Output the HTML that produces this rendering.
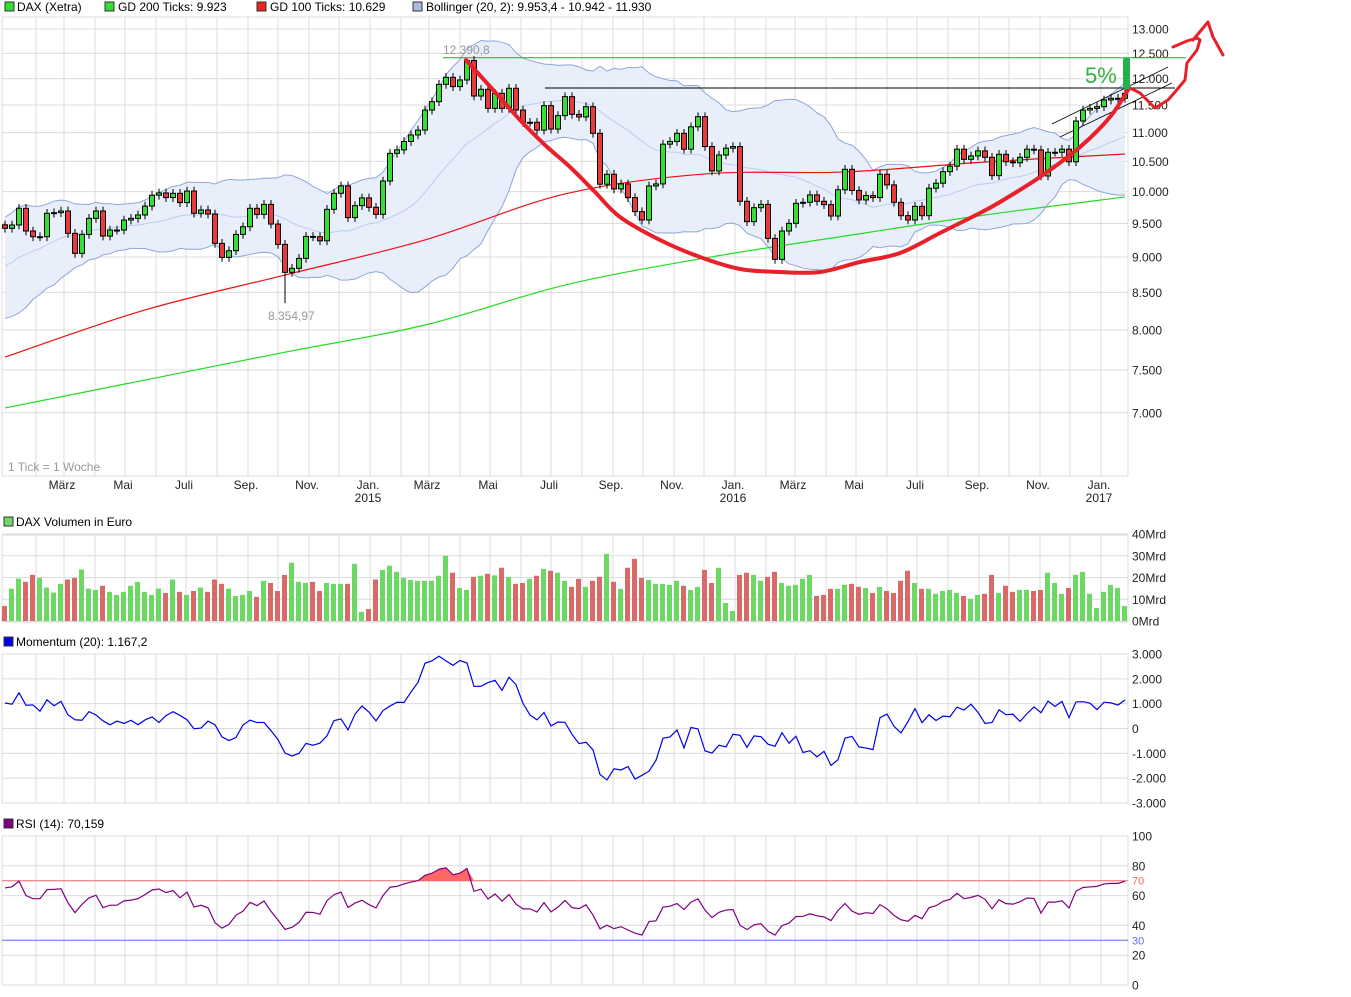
<!DOCTYPE html>
<html><head><meta charset="utf-8">
<style>
html,body{margin:0;padding:0;background:#fff;}
svg{display:block;font-family:"Liberation Sans",Arial,sans-serif;}
</style></head>
<body>
<svg id="chart" xmlns="http://www.w3.org/2000/svg" width="1351" height="997" viewBox="0 0 1351 997">
<g id="legend" font-size="12" fill="#000">
  <rect x="5" y="2" width="9" height="9" fill="#33dd33" stroke="#333"/>
  <text x="17" y="11">DAX (Xetra)</text>
  <rect x="105" y="2" width="9" height="9" fill="#33dd33" stroke="#333"/>
  <text x="118" y="11">GD 200 Ticks: 9.923</text>
  <rect x="257" y="2" width="9" height="9" fill="#ee2222" stroke="#333"/>
  <text x="270" y="11">GD 100 Ticks: 10.629</text>
  <rect x="413" y="2" width="9" height="9" fill="#aabbe0" stroke="#333"/>
  <text x="426" y="11">Bollinger (20, 2): 9.953,4 - 10.942 - 11.930</text>
  <rect x="4" y="517" width="9" height="9" fill="#6cd964" stroke="#333"/>
  <text x="16" y="526">DAX Volumen in Euro</text>
  <rect x="4" y="637" width="9" height="9" fill="#0000ee" stroke="#333"/>
  <text x="16" y="646">Momentum (20): 1.167,2</text>
  <rect x="4" y="819" width="9" height="9" fill="#800080" stroke="#333"/>
  <text x="16" y="828">RSI (14): 70,159</text>
</g>
<g id="grid"></g>
<g id="main"></g>
<g id="vol"></g>
<g id="mom"></g>
<g id="rsi"></g>
<g id="anno"></g>
</svg>
<script>
// ---------- DATA ----------
const preHistory = [8400,8500,8300,8450,8350,8600,8500,8750,8600,8800,8700,9000,8900,9150,9000,9250,9100,9350,9250,9480];
const closes = [9426,9477,9735,9385,9299,9299,9657,9667,9693,9350,
9053,9334,9579,9693,9309,9400,9400,9553,9579,9631,
9770,9943,9980,9905,9974,9825,10010,9657,9709,9646,
9200,8994,9092,9334,9450,9735,9641,9797,9491,9185,
8780,8837,8980,9304,9299,9238,9719,9974,10093,9590,
9777,9900,9751,9641,10173,10638,10697,10843,10958,11044,
11407,11562,11890,12025,11846,11974,12356,11668,11795,11438,
11719,11438,11814,11407,11184,11184,11044,11488,11062,11305,
11656,11328,11281,11469,10987,10121,10285,10044,10126,9905,
9683,9553,10093,10126,10796,10843,10987,10709,11103,11286,
10755,10340,10609,10727,10755,9846,9528,9745,9797,9274,
8966,9385,9502,9814,9830,9948,9846,9793,9615,10030,
10367,10020,9867,9938,9905,10285,10110,9830,9620,9553,
9766,9620,10056,10137,10328,10420,10709,10535,10593,10680,
10570,10262,10621,10494,10477,10570,10709,10697,10257,10656,
10656,10709,10494,11207,11407,11438,11469,11594,11625,11625,11719];
const volumes = [6.9,14.9,19.5,18,21.2,19.8,15.4,13.1,17.1,19.1,
19.8,23.7,14.9,14.3,16.2,13.4,12,13.4,16.2,18,
13.4,12,14.9,12.9,19.1,13.4,12,13.8,15.4,13.4,
19.1,17.1,14.9,11.5,12,13.8,11.1,18.5,17.5,13.8,
21.2,26.8,18,17.5,18,13.8,17.5,17.1,17.1,17.1,
26.3,4.2,5.5,19.1,23.5,25.4,22.6,19.8,18.9,18.5,
18.5,18.5,20.8,30,22.2,15.2,14.3,20.3,20.8,21.7,
21,24.5,20.3,17.1,17.5,19.4,20.8,24,23.1,22.2,
18.5,15.7,19.4,15.7,18.5,20.3,30.9,18,14.8,24.5,
28.6,19.8,18.9,17.1,17.1,16.6,18.5,16.2,14.3,15.7,
23.5,17.5,24.5,8.3,4.6,21.2,22.2,21.2,18.5,20.3,
22.6,17.5,16.2,16.6,19.4,21.2,11.5,12,14.8,14.8,
16.6,17.1,15.7,15.2,12.9,15.7,13.8,12.9,18.5,23.1,
17.5,14.8,14.8,12.5,13.8,14.3,12.9,11.5,10.2,12,
12.5,21.2,12.9,16.2,13.4,14.3,14.3,13.8,14.3,22.2,
17.5,12.5,15.2,21.2,22.6,12.5,6,13.4,16.6,15.2,6.9];
const sma200Values = [7055,7380,7719,8065,8602,8985,9310,9631,9915];
const sma100Values = [7658,8263,8742,9251,9963,10290,10323,10490,10626];
const maStepWeeks = 20;
const priceTicks = [13000,12500,12000,11500,11000,10500,10000,9500,9000,8500,8000,7500,7000];
const priceTickLabels = ["13.000","12.500","12.000","11.500","11.000","10.500","10.000","9.500","9.000","8.500","8.000","7.500","7.000"];
const volTicks = [40,30,20,10,0];
const volTickLabels = ["40Mrd","30Mrd","20Mrd","10Mrd","0Mrd"];
const momTicks = [3000,2000,1000,0,-1000,-2000,-3000];
const momTickLabels = ["3.000","2.000","1.000","0","-1.000","-2.000","-3.000"];
const rsiTicks = [100,80,60,40,20,0];
const monthLabels = ["März","Mai","Juli","Sep.","Nov.","Jan.","März","Mai","Juli","Sep.","Nov.","Jan.","März","Mai","Juli","Sep.","Nov.","Jan."];
const monthLabelDays = [59,120,181,243,304,365,424,485,546,608,669,730,790,851,912,974,1035,1096];
const yearLabels = ["2015","2016","2017"];
const yearLabelDays = [365,730,1096];
const highLabel = 12390.8, highWeek = 66;
const lowLabel = 8354.97, lowWeek = 40;

// ---------- SCALES ----------
const NS = "http://www.w3.org/2000/svg";
const PL = 2, PR = 1128;
function xw(i){ return 5 + 7*i; }
function xd(d){ return 5 + d; }
function yP(v){ return 29 + (Math.log(13000) - Math.log(v))*620; }
function yV(v){ return 621 - v*2.175; }
function yM(m){ return 728.5 - m*0.024833; }
function yR(r){ return 985 - r*1.49; }
function mk(parent, tag, attrs, txt){
  const e = document.createElementNS(NS, tag);
  for (const k in attrs) e.setAttribute(k, attrs[k]);
  if (txt !== undefined) e.textContent = txt;
  parent.appendChild(e);
  return e;
}
function smooth(pts){
  let d = `M${pts[0][0]},${pts[0][1]}`;
  for (let i=0;i<pts.length-1;i++){
    const p0=pts[Math.max(0,i-1)], p1=pts[i], p2=pts[i+1], p3=pts[Math.min(pts.length-1,i+2)];
    const c1=[p1[0]+(p2[0]-p0[0])/6, p1[1]+(p2[1]-p0[1])/6];
    const c2=[p2[0]-(p3[0]-p1[0])/6, p2[1]-(p3[1]-p1[1])/6];
    d += ` C${c1[0]},${c1[1]} ${c2[0]},${c2[1]} ${p2[0]},${p2[1]}`;
  }
  return d;
}
const G = id => document.getElementById(id);
const grid = G('grid');
const GRID = "#dcdcdc";

const monthStarts = [];
{ let d = new Date(Date.UTC(2014,1,1)); const base = Date.UTC(2014,0,1);
  while (true){ const dd = (d - base)/86400000; if (dd > 1122) break; monthStarts.push(dd); d = new Date(Date.UTC(d.getUTCFullYear(), d.getUTCMonth()+1, 1)); } }
const panels = [[17,476],[535,622],[654,803],[836,985]];
panels.forEach(([t,b])=>{
  const r = mk(grid,'rect',{x:PL,y:t,width:PR-PL,height:b-t,fill:'none',stroke:GRID});
  
  
  monthStarts.forEach(d=>{
    const l = mk(grid,'line',{x1:xd(d),x2:xd(d),y1:t,y2:b,stroke:GRID});
    
    
  });
});
function hTicks(vals, labels, fy){
  vals.forEach((v,i)=>{
    const y = fy(v);
    const l = mk(grid,'line',{x1:PL,x2:PR,y1:y,y2:y,stroke:GRID});
    
    
    const t = mk(grid,'text',{x:1132,y:y+4.5,'font-size':12,fill:'#222'}, labels[i]);
    
    
  });
}
hTicks(priceTicks, priceTickLabels, yP);
hTicks(volTicks, volTickLabels, yV);
hTicks(momTicks, momTickLabels, yM);
hTicks(rsiTicks, rsiTicks.map(String), yR);
monthLabels.forEach((m,i)=>{
  const t = mk(grid,'text',{x:xd(monthLabelDays[i])-2,y:489,'font-size':12,fill:'#222','text-anchor':'middle'}, m);
  
  
});
yearLabels.forEach((m,i)=>{
  const t = mk(grid,'text',{x:xd(yearLabelDays[i])-2,y:502,'font-size':12,fill:'#222','text-anchor':'middle'}, m);
  
  
});

// ---------- MAIN PANEL ----------
const main = G('main');
const all = preHistory.concat(closes);
const P = preHistory.length;
const up=[], lo=[], mid=[];
closes.forEach((c,i)=>{
  const w = all.slice(P+i-19, P+i+1);
  const m = w.reduce((a,b)=>a+b,0)/w.length;
  const sd = Math.sqrt(w.reduce((a,b)=>a+(b-m)*(b-m),0)/w.length);
  mid.push(m); up.push(m+2*sd); lo.push(m-2*sd);
});
let bp = up.map((v,i)=>`${xw(i)},${yP(v)}`).concat(lo.map((v,i)=>`${xw(i)},${yP(v)}`).reverse()).join(' ');
const band = mk(main,'polygon',{points:bp,fill:'#e6edfb','fill-opacity':0.9,stroke:'none'});


[[up,'#8ea6d9','bollinger-upper'],[lo,'#8ea6d9','bollinger-lower'],[mid,'#b9cdf2','bollinger-middle']].forEach(([arr,col,nm])=>{
  const l = mk(main,'polyline',{points:arr.map((v,i)=>`${xw(i)},${yP(v)}`).join(' '),fill:'none',stroke:col,'stroke-width':1});
  
  
});
function maLine(vals, col, nm){
  const pts = vals.map((v,k)=>[xw(k*maStepWeeks), yP(v)]);
  const l = mk(main,'path',{d:smooth(pts),fill:'none',stroke:col,'stroke-width':1.2});
  
  
}
maLine(sma200Values,'#22dd22','gd200-line');
maLine(sma100Values,'#ee1111','gd100-line');
const hl1 = mk(main,'line',{x1:443,x2:1186,y1:yP(highLabel)-1,y2:yP(highLabel)-1,stroke:'#22aa33','stroke-width':1});


const hl2 = mk(main,'line',{x1:545,x2:1175,y1:88,y2:88,stroke:'#000','stroke-width':1});


[[1052,124,1168,67],[1060,137,1172,83]].forEach(c=>{
  const l = mk(main,'line',{x1:c[0],y1:c[1],x2:c[2],y2:c[3],stroke:'#000','stroke-width':0.8});
  
  
});
closes.forEach((c,i)=>{
  const o = i===0 ? preHistory[P-1] : closes[i-1];
  let hi = Math.max(o,c)*1.007, lw = Math.min(o,c)*0.993;
  if (i===highWeek) hi = highLabel;
  if (i===lowWeek) lw = lowLabel;
  const x = xw(i);
  const w = mk(main,'line',{x1:x,x2:x,y1:yP(hi),y2:yP(lw),stroke:'#000','stroke-width':1});
  
  
  const top = yP(Math.max(o,c)), bot = yP(Math.min(o,c));
  const b = mk(main,'rect',{x:x-2.5,y:top,width:5,height:Math.max(1,bot-top),fill:c>=o?'#33e033':'#e83c3c',stroke:'#000','stroke-width':1});
  
  
});
const tH = mk(main,'text',{x:443,y:54,'font-size':12,fill:'#999'}, '12.390,8');


const tL = mk(main,'text',{x:268,y:320,'font-size':12,fill:'#999'}, '8.354,97');


const tT = mk(main,'text',{x:8,y:471,'font-size':12,fill:'#999'}, '1 Tick = 1 Woche');



// ---------- VOLUME ----------
const vol = G('vol');
volumes.forEach((v,i)=>{
  const o = i===0 ? preHistory[P-1] : closes[i-1];
  const r = mk(vol,'rect',{x:xw(i)-3,y:yV(v),width:5,height:yV(0)-yV(v),fill:closes[i]>=o?'#6cd964':'#d96a6a'});
  
  
});

// ---------- MOMENTUM ----------
const mom = G('mom');
const momVals = closes.map((c,i)=>c - all[P+i-20]);
const ml = mk(mom,'polyline',{points:momVals.map((m,i)=>`${xw(i)},${yM(m)}`).join(' '),fill:'none',stroke:'#0000ee','stroke-width':1.2});



// ---------- RSI ----------
const rsiG = G('rsi');
let ag=0, al=0;
for (let k=1;k<=14;k++){ const d = all[k]-all[k-1]; if(d>0) ag+=d; else al-=d; }
ag/=14; al/=14;
for (let k=15;k<P;k++){ const d=all[k]-all[k-1]; ag=(ag*13+Math.max(d,0))/14; al=(al*13+Math.max(-d,0))/14; }
const rsiVals = closes.map((c,i)=>{
  const d = c - all[P+i-1];
  ag=(ag*13+Math.max(d,0))/14; al=(al*13+Math.max(-d,0))/14;
  return al===0?100:100-100/(1+ag/al);
});
const y70 = yR(70), y30 = yR(30);
const fillPts = rsiVals.map((r,i)=>`${xw(i)},${Math.min(yR(r),y70)}`);
const rf = mk(rsiG,'polygon',{points:`${xw(0)},${y70} ${fillPts.join(' ')} ${xw(rsiVals.length-1)},${y70}`,fill:'#ff6666',stroke:'none'});


const l70 = mk(rsiG,'line',{x1:PL,x2:PR,y1:y70,y2:y70,stroke:'#ee6666'});


const l30 = mk(rsiG,'line',{x1:PL,x2:PR,y1:y30,y2:y30,stroke:'#6666ff'});


const t70 = mk(rsiG,'text',{x:1132,y:y70+4,'font-size':11,fill:'#ff6666'},'70');


const t30 = mk(rsiG,'text',{x:1132,y:y30+4,'font-size':11,fill:'#6666ff'},'30');


const rl = mk(rsiG,'polyline',{points:rsiVals.map((r,i)=>`${xw(i)},${yR(r)}`).join(' '),fill:'none',stroke:'#800080','stroke-width':1.2});



// ---------- HAND-DRAWN ANNOTATIONS ----------
const anno = G('anno');
const cup = [[466,60],[495,92],[520,120],[545,145],[570,167],[595,192],[620,217],[660,240],[700,257],[740,269],[780,272],[820,272],[860,262],[900,253],[940,233],[980,213],[1000,202],[1040,177],[1080,147],[1110,117],[1128,90]];
const cp = mk(anno,'path',{d:smooth(cup),fill:'none',stroke:'#e8202a','stroke-width':4,'stroke-linejoin':'round','stroke-linecap':'round'});


const ar = mk(anno,'path',{d:'M1128,87 L1140,93 L1155,108 L1168,100 L1175,92 L1185,80 L1187,63 L1197,50 L1200,40 L1197,38 L1187,41 L1173,47 M1193,40 L1208,22 L1213,37 L1223,55',fill:'none',stroke:'#e8202a','stroke-width':3,'stroke-linejoin':'round','stroke-linecap':'round'});


const gb = mk(anno,'rect',{x:1123,y:58,width:7,height:31,rx:2,fill:'#22b24c'});


const pt = mk(anno,'text',{x:1085,y:83,'font-size':22,fill:'#33b040'},'5%');


</script>
</body></html>
